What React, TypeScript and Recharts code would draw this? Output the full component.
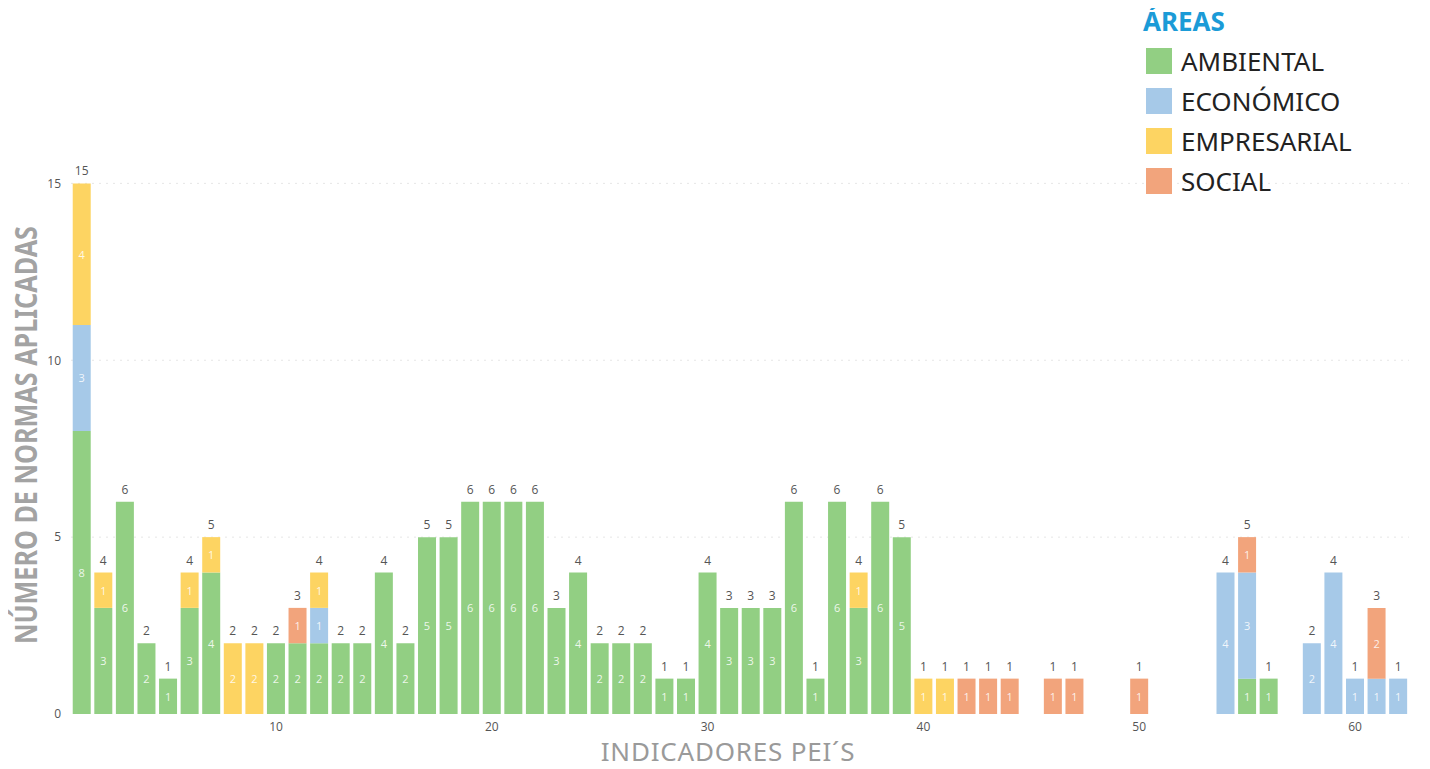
import React from 'react';
import { BarChart, Bar, XAxis, YAxis, CartesianGrid, LabelList } from 'recharts';

const indicadores = Array.from({ length: 62 }, (_, i) => i + 1);
const ambiental   = [8,3,6,2,1,3,4,0,0,2, 2,2,2,2,4,2,5,5,6,6, 6,6,3,4,2,2,2,1,1,4, 3,3,3,6,1,6,3,6,5,0, 0,0,0,0,0,0,0,0,0,0, 0,0,0,0,1,1,0,0,0,0, 0,0];
const economico   = [3,0,0,0,0,0,0,0,0,0, 0,1,0,0,0,0,0,0,0,0, 0,0,0,0,0,0,0,0,0,0, 0,0,0,0,0,0,0,0,0,0, 0,0,0,0,0,0,0,0,0,0, 0,0,0,4,3,0,0,2,4,1, 1,1];
const empresarial = [4,1,0,0,0,1,1,2,2,0, 0,1,0,0,0,0,0,0,0,0, 0,0,0,0,0,0,0,0,0,0, 0,0,0,0,0,0,1,0,0,1, 1,0,0,0,0,0,0,0,0,0, 0,0,0,0,0,0,0,0,0,0, 0,0];
const social      = [0,0,0,0,0,0,0,0,0,0, 1,0,0,0,0,0,0,0,0,0, 0,0,0,0,0,0,0,0,0,0, 0,0,0,0,0,0,0,0,0,0, 0,1,1,1,0,1,1,0,0,1, 0,0,0,0,1,0,0,0,0,0, 2,0];
const xTicks = [10, 20, 30, 40, 50, 60];
const yTicks = [0, 5, 10, 15];

const series = [
  { key: 'ambiental', name: 'AMBIENTAL', color: '#92cf83', values: ambiental },
  { key: 'economico', name: 'ECONÓMICO', color: '#a6c9e8', values: economico },
  { key: 'empresarial', name: 'EMPRESARIAL', color: '#fdd462', values: empresarial },
  { key: 'social', name: 'SOCIAL', color: '#f2a47c', values: social },
];

const data = indicadores.map((x, i) => {
  const total = ambiental[i] + economico[i] + empresarial[i] + social[i];
  let top = -1;
  series.forEach((s, si) => { if (s.values[i]) top = si; });
  return {
    x,
    ambiental: ambiental[i] || null,
    economico: economico[i] || null,
    empresarial: empresarial[i] || null,
    social: social[i] || null,
    total,
    top,
  };
});

const FONT = "'Open Sans', 'Noto Sans', sans-serif";

const InsideLabel = (props: any) => {
  const { x, y, width, height, value } = props;
  if (!value) return null;
  return (
    <text x={x + width / 2} y={y + height / 2} textAnchor="middle" dominantBaseline="central"
      fill="#ffffff" fillOpacity={0.85} fontSize={11} fontFamily={FONT}>{value}</text>
  );
};

const makeTotalLabel = (si: number) => (props: any) => {
  const { x, y, width, value } = props;
  const row = data[Number(value) - 1];
  if (!row || row.top !== si || !row.total) return null;
  return (
    <text x={x + width / 2} y={y - 8} textAnchor="middle" fill="#555555" fontSize={12} fontFamily={FONT}>{row.total}</text>
  );
};

export default function App() {
  return (
    <div style={{ position: 'relative', width: 1414, height: 761, fontFamily: FONT }}>
      <BarChart width={1414} height={760} data={data}
        margin={{ top: 140, right: 13, bottom: 0, left: 0 }} barCategoryGap="8%">
        <CartesianGrid horizontal vertical={false} horizontalValues={[5, 10, 15]} strokeDasharray="2 5" stroke="#e6e6e6" />
        <XAxis dataKey="x" interval={0} height={54} axisLine={false} tickLine={false}
          tick={{ fill: '#555', fontSize: 12, fontFamily: FONT }}
          tickFormatter={(v: any) => (xTicks.includes(Number(v)) ? String(v) : '')}
          tickMargin={2} />
        <YAxis width={63} domain={[0, 16]} ticks={yTicks} axisLine={false} tickLine={false}
          tick={{ fill: '#555', fontSize: 12, fontFamily: FONT }} tickMargin={4} />
        {series.map((s, si) => (
          <Bar key={s.key} dataKey={s.key} name={s.name} stackId="a" fill={s.color} isAnimationActive={false}>
            <LabelList dataKey={s.key} content={InsideLabel} />
            <LabelList dataKey="x" content={makeTotalLabel(si)} />
          </Bar>
        ))}
      </BarChart>

      <div style={{ position: 'absolute', left: -8, top: 0, width: 52, height: 760, pointerEvents: 'none' }}>
        <div style={{
          position: 'absolute', left: 25, top: 427, transform: 'translate(-50%, -50%) rotate(-90deg) scaleX(0.84)',
          whiteSpace: 'nowrap', fontSize: 30, fontWeight: 700, color: '#a3a3a3', fontFamily: "'Noto Sans', sans-serif",
        }}>NÚMERO DE NORMAS APLICADAS</div>
      </div>
      <div style={{
        position: 'absolute', left: 720, top: 730, transform: 'translateX(-50%)', whiteSpace: 'nowrap',
        fontSize: 26, lineHeight: '26px', letterSpacing: 0.8, color: '#9a9a9a', fontFamily: "'Noto Sans', sans-serif",
      }}>INDICADORES PEI´S</div>

      <div style={{ position: 'absolute', left: 1135, top: -7, fontFamily: "'Noto Sans', sans-serif" }}>
        <div style={{ fontSize: 26, fontWeight: 700, color: '#1b9bd7', lineHeight: '40px' }}>ÁREAS</div>
        {series.map((s) => (
          <div key={s.key} style={{ display: 'flex', alignItems: 'center', height: 40 }}>
            <div style={{ width: 26, height: 26, background: s.color, marginLeft: 3, marginRight: 9 }} />
            <span style={{ fontSize: 26, color: '#222', lineHeight: '40px' }}>{s.name}</span>
          </div>
        ))}
      </div>
    </div>
  );
}
